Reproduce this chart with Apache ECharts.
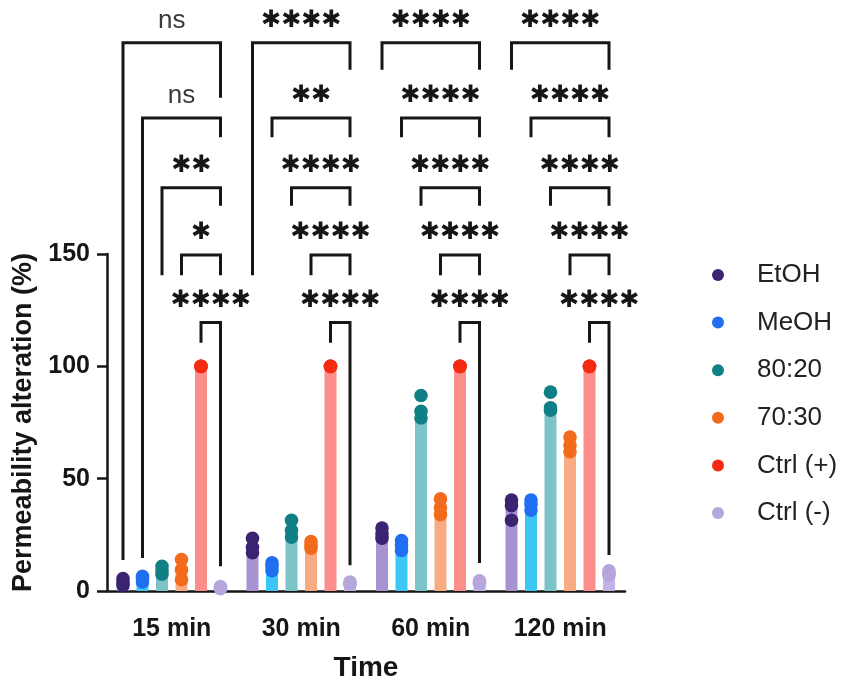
<!DOCTYPE html>
<html><head><meta charset="utf-8">
<script src="https://cdn.jsdelivr.net/npm/echarts@6/dist/echarts.min.js"></script>
<style>html,body{margin:0;padding:0;background:#fff}#chart{width:851px;height:692px}</style>
</head><body><div id="chart"></div>
<script>
// ---------- data ----------
const categories = ['15 min', '30 min', '60 min', '120 min'];
const treatments = ['EtOH', 'MeOH', '80:20', '70:30', 'Ctrl (+)', 'Ctrl (-)'];
const yTicks = [0, 50, 100, 150];

// bar heights (mean)
const etohMean    = [4, 20, 25.5, 36.5];
const meohMean    = [5.3, 11, 20.5, 38.5];
const mix8020Mean = [9, 27.5, 81, 83.5];
const mix7030Mean = [9.5, 20.5, 37.5, 65];
const ctrlPosMean = [100, 100, 100, 100];
const ctrlNegMean = [1.5, 3.5, 4, 8];

// replicate points
const etohReps    = [[2.5, 4, 5.5], [17, 19.5, 23.5], [23.5, 25.5, 28], [31.5, 38, 40.5]];
const meohReps    = [[4, 5.5, 6.5], [9, 11, 12.5], [18, 20.5, 22.5], [36, 38.5, 40.5]];
const mix8020Reps = [[7.5, 9, 11], [24, 27, 31.5], [77, 80, 87], [80.5, 81.5, 88.5]];
const mix7030Reps = [[5, 9.5, 14], [19, 20.5, 22], [34, 37, 41], [62, 65, 68.5]];
const ctrlPosReps = [[100, 100, 100], [100, 100, 100], [100, 100, 100], [100, 100, 100]];
const ctrlNegReps = [[1, 1.5, 2], [3, 3.5, 4], [3.5, 4, 4.5], [7, 8, 9]];

// significance brackets (each vs Ctrl (-)), top to bottom: EtOH, MeOH, 80:20, 70:30, Ctrl (+)
const sigLabels15  = ['ns', 'ns', '**', '*', '****'];
const sigLabels30  = ['****', '**', '****', '****', '****'];
const sigLabels60  = ['****', '****', '****', '****', '****'];
const sigLabels120 = ['****', '****', '****', '****', '****'];
const bracketLevels = [244, 210.5, 179.5, 149.5, 119.5];
const leftEnds15   = [13.8, 14.7, 140.5, 140.5, 110.5];
const rightEnds15  = [219.5, 202, 171.5, 140.5, 11];
const leftEnds30   = [140.5, 202, 171.5, 140.5, 110.5];
const rightEnds30  = [232, 202, 171.5, 140.5, 11.5];
const leftEnds60   = [232, 202, 171.5, 140.5, 110.5];
const rightEnds60  = [232, 202, 171.5, 140.5, 12.5];
const leftEnds120  = [232, 202, 171.5, 140.5, 110.5];
const rightEnds120 = [232, 202, 171.5, 140.5, 16];

// ---------- styling ----------
const dotColors = ['#3a2370', '#1f6ff0', '#117f86', '#f26a1b', '#f52a12', '#b5a6dc'];
const barColors = ['#a793d2', '#3cc6f6', '#7dc4c8', '#f9ab84', '#fb8e8a', '#c2b4e6'];
const BAR_W = 12, BAR_GAP = '62.5%';
const FONT = '"Liberation Sans", Arial, Helvetica, sans-serif';
const INK = '#161616';

const means = [etohMean, meohMean, mix8020Mean, mix7030Mean, ctrlPosMean, ctrlNegMean];
const reps = [etohReps, meohReps, mix8020Reps, mix7030Reps, ctrlPosReps, ctrlNegReps];
const sigLabels = [sigLabels15, sigLabels30, sigLabels60, sigLabels120];
const leftEnds = [leftEnds15, leftEnds30, leftEnds60, leftEnds120];
const rightEnds = [rightEnds15, rightEnds30, rightEnds60, rightEnds120];

const dotData = [];
reps.forEach((arr, t) => arr.forEach((vals, g) => vals.forEach(v => dotData.push([g, v, t]))));

const brackets = [];
sigLabels.forEach((labels, g) => labels.forEach((lab, k) => {
  brackets.push({ group: g, from: k, to: 5, level: bracketLevels[k],
    leftEnd: leftEnds[g][k], rightEnd: rightEnds[g][k], label: lab });
}));

const chart = echarts.init(document.getElementById('chart'), null, { renderer: 'canvas' });

const series = treatments.map((name, t) => ({
  name, type: 'bar', data: means[t], barWidth: BAR_W, barGap: BAR_GAP, z: 2,
  itemStyle: { color: barColors[t] }, silent: true
}));

series.push({
  name: 'points', type: 'custom', data: dotData, encode: { x: 0, y: 1 }, silent: true, z: 5,
  renderItem: function (params, api) {
    const lay = api.barLayout({ count: 6, barWidth: BAR_W, barGap: BAR_GAP });
    const pt = api.coord([api.value(0), api.value(1)]);
    const t = api.value(2);
    return { type: 'circle', shape: { cx: pt[0] + lay[t].offsetCenter, cy: pt[1], r: 6.8 },
      style: { fill: dotColors[t] } };
  }
});

series.push({
  name: 'brackets', type: 'custom', clip: false, silent: true, z: 6,
  data: brackets.map(b => [b.group, b.level]), encode: { x: 0, y: 1 },
  renderItem: function (params, api) {
    const b = brackets[params.dataIndex];
    const lay = api.barLayout({ count: 6, barWidth: BAR_W, barGap: BAR_GAP });
    const top = api.coord([b.group, b.level]);
    const xL = top[0] + lay[b.from].offsetCenter;
    const xR = top[0] + lay[b.to].offsetCenter;
    const yL = api.coord([b.group, b.leftEnd])[1];
    const yR = api.coord([b.group, b.rightEnd])[1];
    const isNs = b.label === 'ns';
    const txt = isNs ? 'ns' : b.label.replace(/\*/g, '\u2731');
    return { type: 'group', children: [
      { type: 'polyline', shape: { points: [[xL, yL], [xL, top[1]], [xR, top[1]], [xR, yR]] },
        style: { stroke: INK, lineWidth: 3, fill: null, lineJoin: 'miter' } },
      { type: 'text', style: { text: txt, x: (xL + xR) / 2, y: top[1] - (isNs ? 22 : 22),
          align: 'center', verticalAlign: 'middle', fill: isNs ? '#3a3a3a' : INK,
          fontSize: isNs ? 26 : 24, fontWeight: isNs ? 'normal' : 'bold',
          fontFamily: isNs ? FONT : '"DejaVu Sans", sans-serif' } }
    ]};
  }
});

chart.setOption({
  animation: false,
  backgroundColor: '#fff',
  grid: { left: 107, right: 226, top: 254, bottom: 101, containLabel: false, outerBoundsMode: 'none' },
  legend: {
    orient: 'vertical', left: 712, top: 262, padding: 0,
    icon: 'circle', itemWidth: 12, itemHeight: 12, itemGap: 21.6,
    textStyle: { fontSize: 26, color: '#222', fontFamily: FONT, padding: [0, 0, 0, 28] },
    data: treatments.map((n, i) => ({ name: n, itemStyle: { color: dotColors[i] } })),
    selectedMode: false
  },
  xAxis: {
    type: 'category', data: categories,
    name: 'Time', nameLocation: 'middle', nameGap: 63,
    nameTextStyle: { fontSize: 28, fontWeight: 'bold', color: INK, fontFamily: FONT },
    axisLine: { lineStyle: { color: INK, width: 2.5 } },
    axisTick: { alignWithLabel: true, length: 10, lineStyle: { color: INK, width: 2.5 } },
    axisLabel: { fontSize: 25, fontWeight: 'bold', color: INK, fontFamily: FONT, margin: 26 }
  },
  yAxis: {
    type: 'value', min: yTicks[0], max: yTicks[yTicks.length - 1], interval: 50,
    name: 'Permeability alteration (%)', nameLocation: 'middle', nameGap: 70, nameRotate: 90,
    nameTextStyle: { fontSize: 27, fontWeight: 'bold', color: INK, fontFamily: FONT },
    axisLine: { show: true, lineStyle: { color: INK, width: 2.5 } },
    axisTick: { show: true, length: 10, lineStyle: { color: INK, width: 2.5 } },
    axisLabel: { fontSize: 25, fontWeight: 'bold', color: INK, fontFamily: FONT, margin: 17 },
    splitLine: { show: false }
  },
  series
});
</script></body></html>
